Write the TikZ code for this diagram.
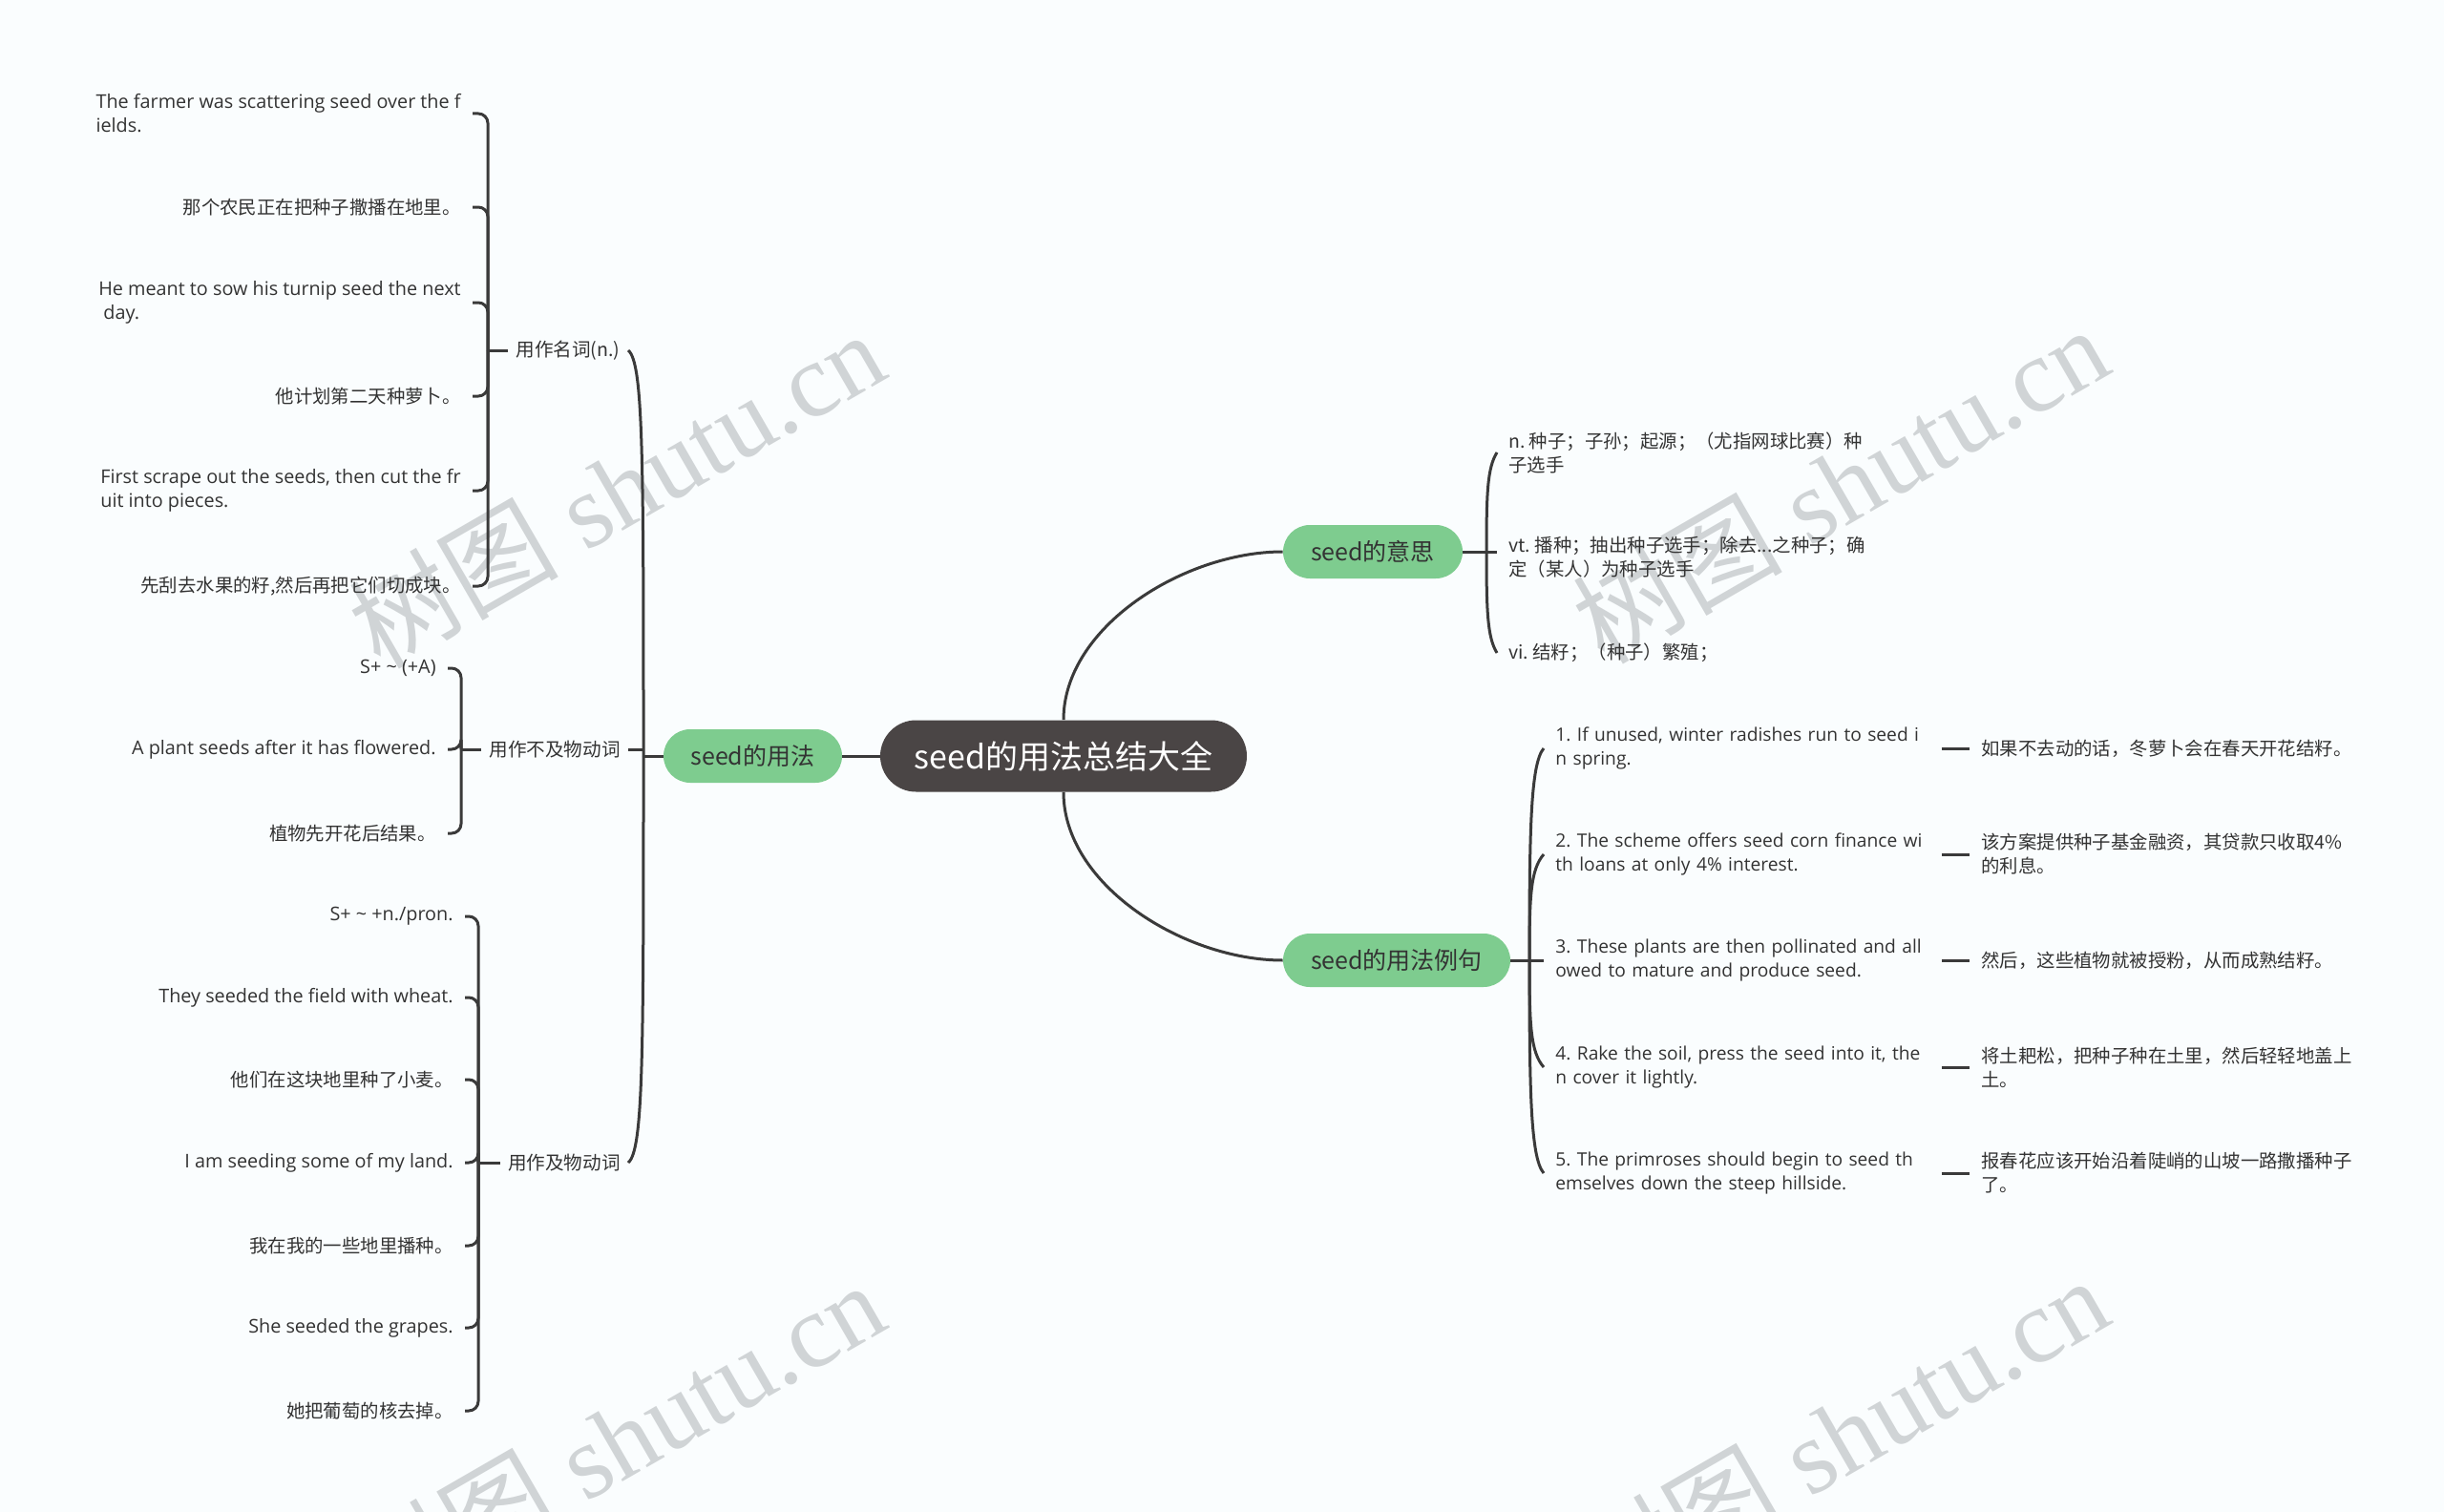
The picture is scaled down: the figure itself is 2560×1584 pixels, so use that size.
\documentclass[tikz,border=0pt]{standalone}
\usepackage{fontspec}
\setmainfont{Open Sans}
\newfontfamily\cjk{Noto Sans CJK SC}
\newfontfamily\wmserif{Liberation Serif}
\frenchspacing

\definecolor{paper}{RGB}{250,253,254}
\definecolor{ink}{RGB}{51,51,51}
\definecolor{rootgray}{RGB}{74,69,69}
\definecolor{topicgreen}{RGB}{126,204,143}
\definecolor{linegray}{RGB}{58,58,58}
\definecolor{wmgray}{RGB}{208,212,214}

\tikzset{
  root/.style={fill=rootgray, text=white, rounded corners=18.75pt, minimum width=192pt, minimum height=37.5pt, font=\cjk\fontsize{17}{20}\selectfont},
  topic/.style={fill=topicgreen, text=ink, rounded corners=14pt, minimum height=28pt, font=\cjk\fontsize{12.5}{15}\selectfont},
  branch/.style={text=ink, inner xsep=4pt, inner ysep=0pt, font=\cjk\fontsize{9.8}{12}\selectfont},
  leaf/.style={text=ink, inner xsep=6pt, inner ysep=0pt, align=left, font=\fontsize{9.9}{12.5}\selectfont},
  sentence/.style={leaf, text width=196pt, font=\fontsize{9.6}{12.5}\selectfont},
  zh/.style={font=\cjk\fontsize{9.7}{12.5}\selectfont},
  link/.style={draw=linegray, line width=1.5pt},
  hook/.style={link, rounded corners=5pt},
  watermark/.style={text=wmgray, rotate=30, font=\fontsize{55}{60}\selectfont}
}

\begin{document}
\begin{tikzpicture}[x=0.5pt, y=-0.5pt]
    % Draw the page
    \fill[paper] (0,0) rectangle (2560,1584);
    \useasboundingbox (0,0) rectangle (2560,1584);

    % Draw the watermarks
    \node[watermark] (wm1) at (645,512) {{\cjk 树图} {\wmserif shutu.cn}};
    \node[watermark] (wm2) at (1927,507) {{\cjk 树图} {\wmserif shutu.cn}};
    \node[watermark] (wm3) at (645,1508) {{\cjk 树图} {\wmserif shutu.cn}};
    \node[watermark] (wm4) at (1927,1503) {{\cjk 树图} {\wmserif shutu.cn}};

    % Draw the main topics
    \node[root] (root) at (1114,792) {seed的用法总结大全};
    \node[topic, minimum width=93.5pt] (usage) at (788.5,792) {seed的用法};
    \node[topic, minimum width=94pt] (meaning) at (1438,578) {seed的意思};
    \node[topic, minimum width=119pt] (examples) at (1463,1006) {seed的用法例句};

    \draw[link] (usage.east) -- (root.west);
    \draw[link] (root.north) .. controls (1114,657) and (1240,578) .. (meaning.west);
    \draw[link] (root.south) .. controls (1114,927) and (1240,1006) .. (examples.west);

    % Draw the branches of the usage
    \node[branch, anchor=east] (noun) at (658,367) {用作名词(n.)};
    \node[branch, anchor=east] (intrans) at (658,785) {用作不及物动词};
    \node[branch, anchor=east] (trans) at (658,1218) {用作及物动词};

    \coordinate (usagejoin) at (674,792);
    \draw[link] (usage.west) -- (usagejoin);
    \draw[link] (usagejoin) .. controls (674,480) and (674,380) .. (noun.east);
    \draw[link] (usagejoin) .. controls (674,1104) and (674,1205) .. (trans.east);
    \draw[link] (intrans.east) -- (intrans.east -| usagejoin);

    % Draw the noun examples
    \node[leaf, anchor=east] (n1) at (495,119) {The farmer was scattering seed over the f\\ields.};
    \node[leaf, zh, anchor=east] (n2) at (495,217) {那个农民正在把种子撒播在地里。};
    \node[leaf, anchor=east] (n3) at (495,317) {He meant to sow his turnip seed the next\\\ day.};
    \node[leaf, zh, anchor=east] (n4) at (495,415) {他计划第二天种萝卜。};
    \node[leaf, anchor=east] (n5) at (495,514) {First scrape out the seeds, then cut the fr\\uit into pieces.};
    \node[leaf, zh, anchor=east] (n6) at (495,614) {先刮去水果的籽,然后再把它们切成块。};

    \coordinate (nounjoin) at (511,367);
    \draw[link] (noun.west) -- (nounjoin);
    \draw[hook] (nounjoin) |- (n1.east);
    \draw[hook] (nounjoin) |- (n2.east);
    \draw[hook] (nounjoin) |- (n3.east);
    \draw[hook] (nounjoin) |- (n4.east);
    \draw[hook] (nounjoin) |- (n5.east);
    \draw[hook] (nounjoin) |- (n6.east);

    % Draw the intransitive examples
    \node[leaf, anchor=east] (i1) at (469,700) {S+ \textasciitilde{} (+A)};
    \node[leaf, anchor=east] (i2) at (469,785) {A plant seeds after it has flowered.};
    \node[leaf, zh, anchor=east] (i3) at (469,873) {植物先开花后结果。};

    \coordinate (intransjoin) at (483,785);
    \draw[link] (intrans.west) -- (intransjoin);
    \draw[hook] (intransjoin) |- (i1.east);
    \draw[hook] (intransjoin) |- (i2.east);
    \draw[hook] (intransjoin) |- (i3.east);

    % Draw the transitive examples
    \node[leaf, anchor=east] (t1) at (487,960) {S+ \textasciitilde{} +n./pron.};
    \node[leaf, anchor=east] (t2) at (487,1045) {They seeded the field with wheat.};
    \node[leaf, zh, anchor=east] (t3) at (487,1131) {他们在这块地里种了小麦。};
    \node[leaf, anchor=east] (t4) at (487,1218) {I am seeding some of my land.};
    \node[leaf, zh, anchor=east] (t5) at (487,1305) {我在我的一些地里播种。};
    \node[leaf, anchor=east] (t6) at (487,1391) {She seeded the grapes.};
    \node[leaf, zh, anchor=east] (t7) at (487,1478) {她把葡萄的核去掉。};

    \coordinate (transjoin) at (501,1218);
    \draw[link] (trans.west) -- (transjoin);
    \draw[hook] (transjoin) |- (t1.east);
    \draw[hook] (transjoin) |- (t2.east);
    \draw[hook] (transjoin) |- (t3.east);
    \draw[hook] (transjoin) |- (t4.east);
    \draw[hook] (transjoin) |- (t5.east);
    \draw[hook] (transjoin) |- (t6.east);
    \draw[hook] (transjoin) |- (t7.east);

    % Draw the meanings
    \node[leaf, zh, anchor=west] (m1) at (1568,474) {n. 种子；子孙；起源；（尤指网球比赛）种\\子选手};
    \node[leaf, zh, anchor=west] (m2) at (1568,584) {vt. 播种；抽出种子选手；除去...之种子；确\\定（某人）为种子选手};
    \node[leaf, zh, anchor=west] (m3) at (1568,684) {vi. 结籽；（种子）繁殖；};

    \coordinate (meaningjoin) at (1557,578);
    \draw[link] (meaning.east) -- (meaningjoin);
    \draw[link] (meaningjoin) .. controls (1557,516) and (1558,490) .. (m1.west);
    \draw[link] (meaningjoin) -- (meaningjoin -| m2.west);
    \draw[link] (meaningjoin) .. controls (1557,640) and (1558,668) .. (m3.west);

    % Draw the example sentences
    \node[sentence, anchor=west] (e1) at (1617,784) {1. If unused, winter radishes run to seed i\\n spring.};
    \node[sentence, anchor=west] (e2) at (1617,895) {2. The scheme offers seed corn finance wi\\th loans at only 4\% interest.};
    \node[sentence, anchor=west] (e3) at (1617,1006) {3. These plants are then pollinated and all\\owed to mature and produce seed.};
    \node[sentence, anchor=west] (e4) at (1617,1118) {4. Rake the soil, press the seed into it, the\\n cover it lightly.};
    \node[sentence, anchor=west] (e5) at (1617,1229) {5. The primroses should begin to seed th\\emselves down the steep hillside.};

    \coordinate (examplesjoin) at (1602,1006);
    \draw[link] (examples.east) -- (examplesjoin);
    \draw[link] (examplesjoin) .. controls (1602,873) and (1603,800) .. (e1.west);
    \draw[link] (examplesjoin) .. controls (1602,940) and (1603,911) .. (e2.west);
    \draw[link] (examplesjoin) -- (e3.west);
    \draw[link] (examplesjoin) .. controls (1602,1073) and (1603,1102) .. (e4.west);
    \draw[link] (examplesjoin) .. controls (1602,1140) and (1603,1213) .. (e5.west);

    % Draw the translations
    \node[leaf, zh, text width=200pt, anchor=west] (z1) at (2063,784) {如果不去动的话，冬萝卜会在春天开花结籽。};
    \node[leaf, zh, text width=200pt, anchor=west] (z2) at (2063,895) {该方案提供种子基金融资，其贷款只收取4\%\\的利息。};
    \node[leaf, zh, text width=200pt, anchor=west] (z3) at (2063,1006) {然后，这些植物就被授粉，从而成熟结籽。};
    \node[leaf, zh, text width=200pt, anchor=west] (z4) at (2063,1118) {将土耙松，把种子种在土里，然后轻轻地盖上\\土。};
    \node[leaf, zh, text width=200pt, anchor=west] (z5) at (2063,1229) {报春花应该开始沿着陡峭的山坡一路撒播种子\\了。};

    \draw[link] (e1.east) -- (z1.west);
    \draw[link] (e2.east) -- (z2.west);
    \draw[link] (e3.east) -- (z3.west);
    \draw[link] (e4.east) -- (z4.west);
    \draw[link] (e5.east) -- (z5.west);
\end{tikzpicture}
\end{document}
